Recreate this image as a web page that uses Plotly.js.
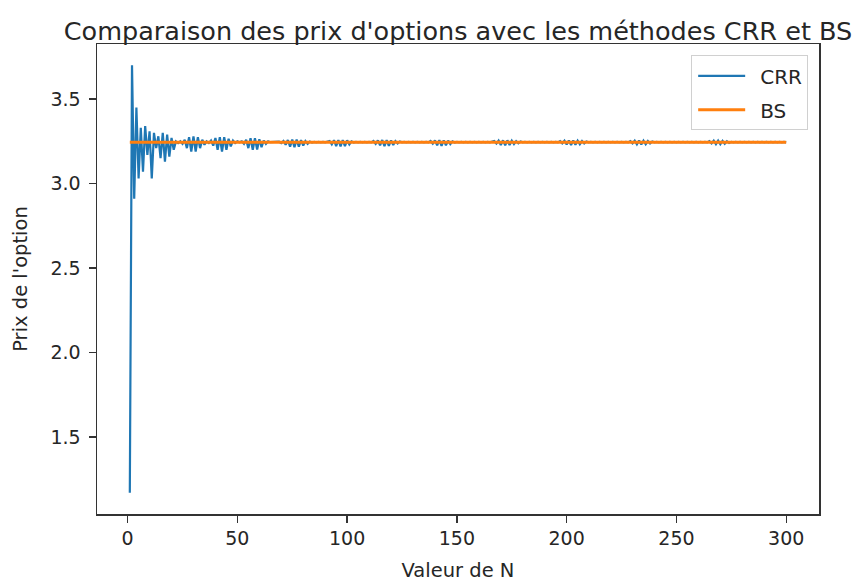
<!DOCTYPE html>
<html>
<head>
<meta charset="utf-8">
<script src="https://cdn.plot.ly/plotly-3.0.1.min.js"></script>
<style>html,body{margin:0;padding:0;background:#fff;}#chart{width:859px;height:582px;}</style>
</head>
<body>
<div id="chart"></div>
<script>
// Prix CRR, pour N = 1 .. 300
const crrPrices = [
  1.17, 3.70, 2.91, 3.45, 3.03, 3.33, 3.07, 3.34, 3.17, 3.31,
  3.03, 3.30, 3.21, 3.28, 3.15, 3.30, 3.13, 3.29, 3.16, 3.27,
  3.20, 3.25, 3.24, 3.25, 3.235, 3.26, 3.21, 3.275, 3.19, 3.28,
  3.19, 3.275, 3.21, 3.26, 3.23, 3.25, 3.24, 3.255, 3.225, 3.27,
  3.20, 3.275, 3.19, 3.275, 3.20, 3.265, 3.22, 3.255, 3.24, 3.25,
  3.245, 3.25, 3.235, 3.26, 3.21, 3.268, 3.20, 3.268, 3.202, 3.262,
  3.215, 3.255, 3.235, 3.25, 3.245, 3.246, 3.248, 3.245, 3.248, 3.24,
  3.252, 3.23, 3.258, 3.218, 3.26, 3.215, 3.26, 3.218, 3.257, 3.225,
  3.252, 3.235, 3.249, 3.243, 3.247, 3.244, 3.247, 3.244, 3.247, 3.244,
  3.248, 3.252, 3.232, 3.257, 3.222, 3.258, 3.22, 3.258, 3.222, 3.256,
  3.232, 3.25, 3.243, 3.247, 3.244, 3.247, 3.244, 3.247, 3.244, 3.247,
  3.244, 3.252, 3.235, 3.256, 3.226, 3.258, 3.222, 3.258, 3.223, 3.256,
  3.228, 3.252, 3.238, 3.249, 3.244, 3.247, 3.244, 3.247, 3.244, 3.247,
  3.244, 3.247, 3.244, 3.247, 3.244, 3.247, 3.244, 3.252, 3.236, 3.256,
  3.226, 3.257, 3.224, 3.256, 3.227, 3.254, 3.234, 3.25, 3.243, 3.247,
  3.244, 3.247, 3.244, 3.247, 3.244, 3.247, 3.244, 3.247, 3.244, 3.247,
  3.244, 3.247, 3.244, 3.247, 3.244, 3.247, 3.252, 3.237, 3.255, 3.229,
  3.256, 3.227, 3.256, 3.229, 3.254, 3.234, 3.251, 3.239, 3.249, 3.244,
  3.247, 3.244, 3.247, 3.244, 3.247, 3.244, 3.247, 3.244, 3.247, 3.244,
  3.247, 3.244, 3.247, 3.244, 3.247, 3.244, 3.251, 3.238, 3.254, 3.231,
  3.255, 3.229, 3.255, 3.23, 3.254, 3.233, 3.252, 3.238, 3.249, 3.244,
  3.247, 3.244, 3.247, 3.244, 3.247, 3.244, 3.247, 3.244, 3.247, 3.244,
  3.247, 3.244, 3.247, 3.244, 3.247, 3.244, 3.247, 3.244, 3.251, 3.238,
  3.254, 3.232, 3.255, 3.231, 3.254, 3.233, 3.252, 3.238, 3.249, 3.244,
  3.247, 3.244, 3.247, 3.244, 3.247, 3.244, 3.247, 3.244, 3.247, 3.244,
  3.247, 3.244, 3.247, 3.244, 3.247, 3.244, 3.247, 3.244, 3.247, 3.244,
  3.247, 3.244, 3.247, 3.244, 3.251, 3.238, 3.254, 3.233, 3.254, 3.233,
  3.253, 3.236, 3.251, 3.24, 3.247, 3.244, 3.247, 3.244, 3.247, 3.244,
  3.247, 3.244, 3.247, 3.244, 3.247, 3.244, 3.247, 3.244, 3.247, 3.244,
  3.247, 3.244, 3.247, 3.244, 3.247, 3.244, 3.247, 3.244, 3.247, 3.244
];
// Prix Black-Scholes (constant)
const bsPrice = 3.245;
// Valeurs de N
const nValues = crrPrices.map((_, i) => i + 1);
const bsPrices = nValues.map(() => bsPrice);

const xTicks = [0, 50, 100, 150, 200, 250, 300];
const yTicks = [1.5, 2.0, 2.5, 3.0, 3.5];
const yTickLabels = ["1.5", "2.0", "2.5", "3.0", "3.5"];

const FONT = "DejaVu Sans, sans-serif";
const TXT = "#262626";

const traces = [
  {x: nValues, y: crrPrices, type: "scatter", mode: "lines", name: "CRR",
   legendgroup: "a", line: {color: "#1f77b4", width: 2.2}},
  {x: nValues, y: bsPrices, type: "scatter", mode: "lines", name: "BS",
   legendgroup: "b", line: {color: "#ff7f0e", width: 3}}
];

const axisCommon = {
  showline: true, mirror: true, linecolor: "#333", linewidth: 1.5,
  ticks: "outside", ticklen: 7, tickwidth: 1.3, tickcolor: "#333",
  showgrid: false, zeroline: false,
  tickfont: {family: FONT, size: 19, color: TXT}
};

const layout = {
  width: 859, height: 582,
  margin: {l: 97, r: 40, t: 44, b: 68},
  paper_bgcolor: "#fff", plot_bgcolor: "#fff",
  font: {family: FONT, color: TXT},
  title: {text: "Comparaison des prix d'options avec les méthodes CRR et BS",
          font: {family: FONT, size: 25.5, color: TXT},
          x: 0.5, xref: "paper", xanchor: "center",
          y: 1, yref: "paper", yanchor: "bottom", pad: {b: 4}},
  xaxis: Object.assign({}, axisCommon, {
    range: [-13.95, 314.95], tickvals: xTicks, ticktext: xTicks.map(String),
    title: {text: "Valeur de N", font: {family: FONT, size: 19.5, color: TXT}, standoff: 16}
  }),
  yaxis: Object.assign({}, axisCommon, {
    range: [1.0435, 3.8265], tickvals: yTicks, ticktext: yTickLabels,
    ticklabelstandoff: 4,
    title: {text: "Prix de l'option", font: {family: FONT, size: 19.5, color: TXT}, standoff: 17}
  }),
  showlegend: true,
  legend: {x: 0.985, y: 0.976, xanchor: "right", yanchor: "top",
           bgcolor: "rgba(255,255,255,0.8)", bordercolor: "#d0d0d0", borderwidth: 1,
           font: {family: FONT, size: 20, color: TXT}, itemwidth: 58,
           traceorder: "grouped", tracegroupgap: 5}
};

Plotly.newPlot("chart", traces, layout, {displayModeBar: false, staticPlot: true}).then(function (gd) {
  // Lignes de légende plus longues, comme dans matplotlib
  gd.querySelectorAll(".legend .legendlines path").forEach(function (p) {
    p.setAttribute("d", "M6,0h47");
  });
});
</script>
</body>
</html>
